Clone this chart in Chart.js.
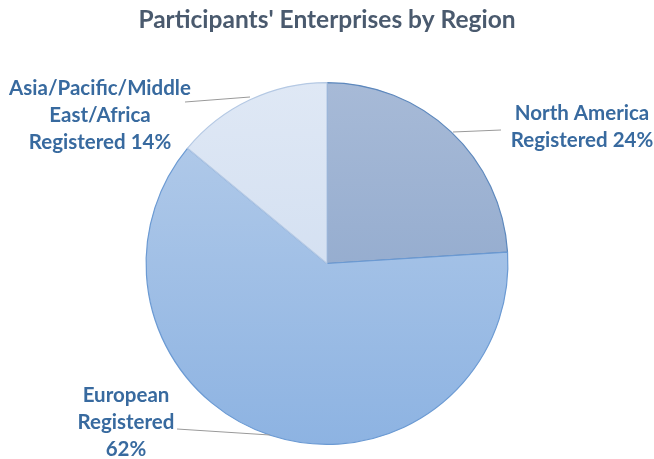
<!DOCTYPE html>
<html>
<head>
<meta charset="utf-8">
<script src="https://cdn.jsdelivr.net/npm/chart.js@4/dist/chart.umd.min.js"></script>
<style>
  body { margin: 0; background: #fff; }
  canvas { display: block; }
</style>
</head>
<body>
<canvas id="regionChart" width="654" height="459"></canvas>
<script>
// ========== DATA ==========
const regions = ['North America Registered', 'European Registered', 'Asia/Pacific/Middle East/Africa Registered'];
const shares = [24, 62, 14];
const labelLines = [
  ['North America', 'Registered 24%'],
  ['European', 'Registered', '62%'],
  ['Asia/Pacific/Middle', 'East/Africa', 'Registered 14%']
];
const chartTitle = "Participants' Enterprises by Region";

// gradient stops per slice (top, bottom)
const sliceColors = [
  ['#a7bad7', '#86a1c8'],
  ['#b6cdea', '#8db3e2'],
  ['#dfe8f5', '#cad9ee']
];

// label anchor (text centre x, first baseline y) + leader line from/to
const labelSpots = [
  { x: 582, y: 113, line: [[501, 130], [453, 132]] },
  { x: 126, y: 395, line: [[177, 429], [270, 435]] },
  { x: 100, y: 88,  line: [[185, 102], [250, 97]] }
];

// ========== LABEL + TITLE PLUGIN ==========
const labelPlugin = {
  id: 'labelPlugin',
  afterDraw(chart) {
    const ctx = chart.ctx;
    ctx.save();

    // title
    ctx.fillStyle = '#4a5a6e';
    ctx.font = 'bold 24.5px Lato, "Open Sans", sans-serif';
    ctx.textAlign = 'center';
    ctx.textBaseline = 'alphabetic';
    ctx.fillText(chartTitle, 327, 28);

    // leader lines
    ctx.strokeStyle = '#9a9a9a';
    ctx.lineWidth = 1;
    labelSpots.forEach(s => {
      ctx.beginPath();
      ctx.moveTo(s.line[0][0], s.line[0][1]);
      ctx.lineTo(s.line[1][0], s.line[1][1]);
      ctx.stroke();
    });

    // labels
    ctx.fillStyle = '#386a9f';
    ctx.font = 'bold 20.5px Lato, "Open Sans", sans-serif';
    labelLines.forEach((lines, i) => {
      const s = labelSpots[i];
      lines.forEach((txt, j) => {
        ctx.fillText(txt, s.x, s.y + 7 + j * 27);
      });
    });
    ctx.restore();
  }
};

// ========== PIE ==========
const ctxEl = document.getElementById('regionChart');
new Chart(ctxEl, {
  type: 'pie',
  data: {
    labels: regions,
    datasets: [{
      data: shares,
      backgroundColor: c => {
        const area = c.chart.chartArea;
        if (!area) return sliceColors[c.dataIndex][0];
        const g = c.chart.ctx.createLinearGradient(0, area.top, 0, area.bottom);
        g.addColorStop(0, sliceColors[c.dataIndex][0]);
        g.addColorStop(1, sliceColors[c.dataIndex][1]);
        return g;
      },
      borderColor: ['#5d88bd', '#6b9ad3', '#b5c9e4'],
      borderWidth: 1.2
    }]
  },
  options: {
    responsive: false,
    animation: false,
    layout: { padding: { top: 82, bottom: 14, left: 0, right: 0 } },
    plugins: {
      legend: { display: false },
      title: { display: false },
      tooltip: { enabled: false }
    }
  },
  plugins: [labelPlugin]
});
</script>
</body>
</html>
